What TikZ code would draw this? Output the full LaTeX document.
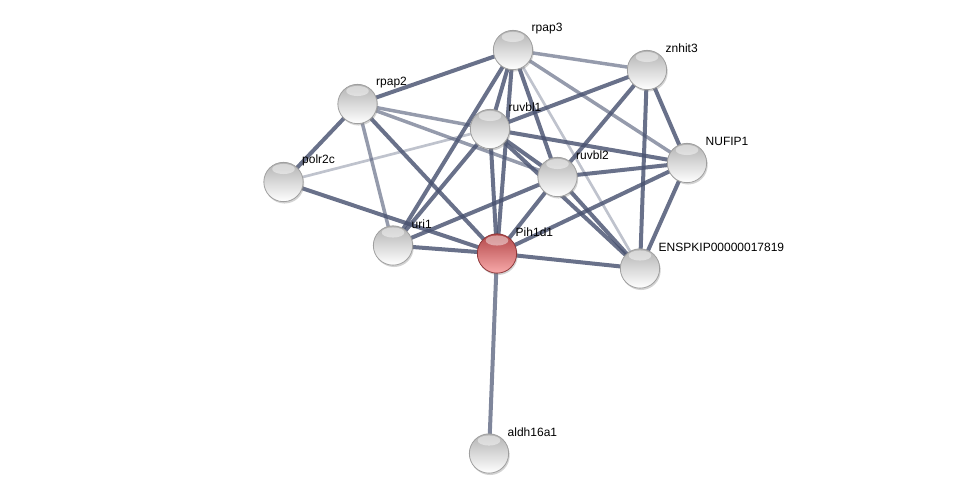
\documentclass[tikz,border=0pt]{standalone}
\usepackage{fontspec}
\setmainfont{Liberation Sans}
\usetikzlibrary{shadows}
\definecolor{edgecol}{RGB}{72,82,112}
\definecolor{pihtop}{RGB}{178,70,72}
\definecolor{pihmid}{RGB}{222,112,114}
\definecolor{pihbot}{RGB}{248,170,170}
\pgfdeclarelayer{edges}
\pgfsetlayers{edges,main}
\tikzset{
  protein/.style={circle, minimum size=29.5pt, inner sep=0pt, draw=gray!75, line width=0.6pt,
    top color=gray!60, middle color=gray!28, bottom color=white,
    drop shadow={shadow xshift=0.8pt, shadow yshift=-1.4pt, opacity=0.35},
    path picture={\fill[white, opacity=0.45] ([yshift=-5pt]path picture bounding box.north) ellipse (8.5pt and 3.8pt);},
    label={[inner sep=0pt, label distance=-1.2pt, yshift=16pt, font=\fontsize{9}{11}\selectfont]0:#1}},
  query/.style={protein=#1, draw=pihtop!80!black, top color=pihtop, middle color=pihmid, bottom color=pihbot},
  strong/.style={edgecol, line width=3pt, opacity=0.82},
  medium/.style={edgecol, line width=2.6pt, opacity=0.58},
  weak/.style={edgecol, line width=2pt, opacity=0.35},
}
\begin{document}
\begin{tikzpicture}[x=0.75pt, y=-0.75pt, line cap=round]
		\useasboundingbox (0,0) rectangle (975,499);
		% proteins
		\node[protein=rpap3] (rpap3) at (513,50) {};
		\node[protein=znhit3] (znhit3) at (647,70) {};
		\node[protein=rpap2] (rpap2) at (357.5,104) {};
		\node[protein=ruvbl1] (ruvbl1) at (490,129) {};
		\node[protein=NUFIP1] (nufip1) at (687,163) {};
		\node[protein=ruvbl2] (ruvbl2) at (557.5,177) {};
		\node[protein=polr2c] (polr2c) at (283.5,182) {};
		\node[protein=uri1] (uri1) at (393,245.5) {};
		\node[query=Pih1d1] (pih1d1) at (497,253.5) {};
		\node[protein=ENSPKIP00000017819] (enspkip) at (640,268.5) {};
		\node[protein=aldh16a1] (aldh16a1) at (489,453.5) {};
		% interactions
		\begin{pgfonlayer}{edges}
		\foreach \a/\b in {rpap2/pih1d1, rpap3/ruvbl1, rpap3/ruvbl2, rpap3/pih1d1, ruvbl1/pih1d1,
		    ruvbl1/ruvbl2, ruvbl2/pih1d1, ruvbl2/enspkip, ruvbl1/enspkip, znhit3/nufip1,
		    znhit3/enspkip, nufip1/enspkip, pih1d1/enspkip, uri1/pih1d1, polr2c/pih1d1,
		    rpap2/polr2c, uri1/rpap3, uri1/ruvbl1, rpap2/rpap3, znhit3/ruvbl2, uri1/ruvbl2,
		    nufip1/pih1d1, nufip1/ruvbl2, ruvbl1/nufip1, znhit3/ruvbl1}
		  \draw[strong] (\a.center) -- (\b.center);
		\draw[strong, opacity=0.7] (pih1d1.center) -- (aldh16a1.center);
		\foreach \a/\b in {rpap2/uri1, rpap3/znhit3, rpap3/nufip1, rpap2/ruvbl1, rpap2/ruvbl2}
		  \draw[medium] (\a.center) -- (\b.center);
		\foreach \a/\b in {polr2c/ruvbl1, rpap3/enspkip}
		  \draw[weak] (\a.center) -- (\b.center);
		\end{pgfonlayer}
	\end{tikzpicture}
\end{document}
